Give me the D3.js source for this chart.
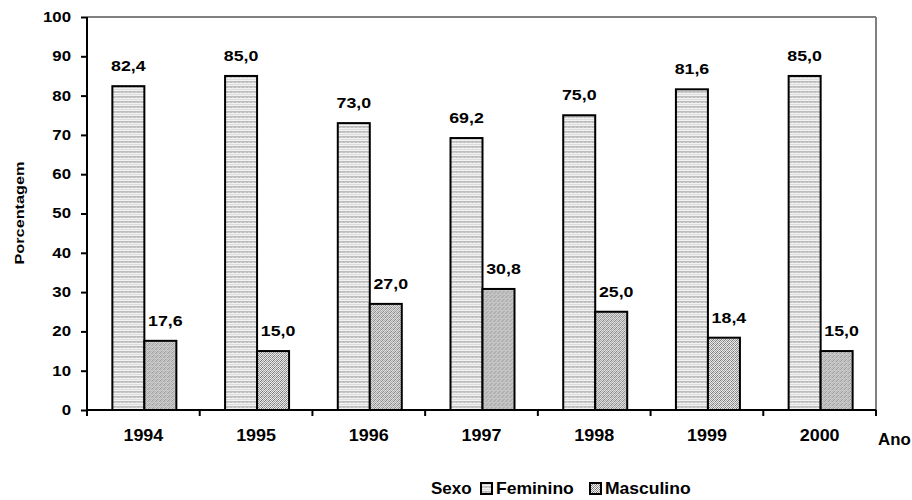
<!DOCTYPE html>
<html><head><meta charset="utf-8">
<script src="https://cdn.jsdelivr.net/npm/d3@7"></script>
<style>
body{margin:0;background:#fff;}
svg{display:block;}
svg text{font-family:"Liberation Sans",Arial,sans-serif;font-weight:700;fill:#000;}
</style></head>
<body><svg id="c" width="912" height="500"></svg>
<script>
const years = ["1994","1995","1996","1997","1998","1999","2000"];
const series = ["Feminino","Masculino"];
const feminino = [82.4,85.0,73.0,69.2,75.0,81.6,85.0];
const masculino = [17.6,15.0,27.0,30.8,25.0,18.4,15.0];
const yTicks = [0,10,20,30,40,50,60,70,80,90,100];
const fmt = v => v.toFixed(1).replace(".", ",");

function stretch(sel, f){
  sel.each(function(){
    const w = this.getComputedTextLength();
    d3.select(this).attr("textLength", w*f).attr("lengthAdjust","spacingAndGlyphs");
  });
}

const svg = d3.select("#c");
const L=87,R=876,T=17,B=410;
const defs = svg.append("defs");
const pf = defs.append("pattern").attr("id","pFem").attr("patternUnits","userSpaceOnUse").attr("width",4).attr("height",5);
pf.append("rect").attr("width",4).attr("height",5).attr("fill","#f2f2f2");
pf.append("path").attr("d","M0,2.5 L1,1.5 L2,2.5 L3,1.5 L4,2.5").attr("stroke","#7a7a7a").attr("stroke-width",1).attr("fill","none");
pf.append("rect").attr("y",4).attr("width",4).attr("height",1).attr("fill","#dcdcdc");
const pm = defs.append("pattern").attr("id","pMas").attr("patternUnits","userSpaceOnUse").attr("width",4).attr("height",4);
pm.append("rect").attr("width",4).attr("height",4).attr("fill","#f0f0f0");
[[0,0],[2,0],[1,1],[3,1],[0,2],[2,2],[1,3],[3,3]].forEach(([a,b],i)=>{
  pm.append("rect").attr("x",a).attr("y",b).attr("width",1).attr("height",1).attr("fill", i%3===0?"#707070":"#989898");
});
const fills = {Feminino:"url(#pFem)", Masculino:"url(#pMas)"};

const x = d3.scaleBand().domain(years).range([L,R]).padding(0);
const pairW = 64;
const xs = d3.scaleBand().domain(series).range([0,pairW]).padding(0);
const y = d3.scaleLinear().domain([0,100]).range([B,T]);

svg.append("line").attr("x1",L).attr("x2",R).attr("y1",T).attr("y2",T).attr("stroke","#808080").attr("stroke-width",2);
svg.append("line").attr("x1",R).attr("x2",R).attr("y1",T).attr("y2",B).attr("stroke","#808080").attr("stroke-width",2);

const data = years.map((yr,i)=>({year:yr, vals:[{s:"Feminino",v:feminino[i]},{s:"Masculino",v:masculino[i]}]}));
const g = svg.append("g").selectAll("g").data(data).join("g")
  .attr("transform",d=>`translate(${x(d.year)+(x.bandwidth()-pairW)/2+1},0)`);
g.selectAll("rect").data(d=>d.vals).join("rect")
  .attr("x",d=>xs(d.s)).attr("width",xs.bandwidth())
  .attr("y",d=>y(d.v)).attr("height",d=>B-y(d.v))
  .attr("fill",d=>fills[d.s]).attr("stroke","#000").attr("stroke-width",2);
const lbl = g.selectAll("text").data(d=>d.vals).join("text")
  .attr("x",d=>xs(d.s)+xs.bandwidth()/2+(d.s==="Masculino"?5:0))
  .attr("y",d=>y(d.v)-15)
  .attr("text-anchor","middle").attr("font-size",14)
  .text(d=>fmt(d.v));
stretch(lbl,1.27);

const ya = svg.append("g").attr("transform",`translate(${L},0)`)
  .call(d3.axisLeft(y).tickValues(yTicks).tickSize(6).tickPadding(10).tickFormat(d3.format("d")));
ya.select(".domain").attr("stroke-width",2).attr("d",`M0,${T}V${B+5}`);
ya.selectAll(".tick line").attr("stroke-width",2);
const yt = ya.selectAll(".tick text").attr("font-size",14);
stretch(yt,1.2);

const xa = svg.append("g").attr("transform",`translate(0,${B})`)
  .call(d3.axisBottom(x).tickSize(0).tickPadding(20));
xa.select(".domain").attr("stroke-width",2).attr("d",`M${L},0H${R}`);
const xt = xa.selectAll(".tick text").attr("font-size",16);
stretch(xt,1.12);
const bounds = years.map(d=>x(d)).concat([x(years[years.length-1])+x.bandwidth()]);
xa.selectAll(".bnd").data(bounds).join("line").attr("class","bnd")
  .attr("x1",d=>d).attr("x2",d=>d).attr("y1",0).attr("y2",6).attr("stroke","#000").attr("stroke-width",2);

stretch(svg.append("text").attr("x",878).attr("y",445).attr("font-size",16).text("Ano"),1.05);
stretch(svg.append("text").attr("transform","translate(24,213) rotate(-90)").attr("text-anchor","middle")
  .attr("font-size",13).text("Porcentagem"),1.25);

const lg = svg.append("g");
stretch(lg.append("text").attr("x",431).attr("y",494).attr("font-size",17).text("Sexo"),1.0);
const legendX = {Feminino:480, Masculino:589};
series.forEach(s=>{
  lg.append("rect").attr("x",legendX[s]+1).attr("y",483).attr("width",11).attr("height",11)
    .attr("fill",fills[s]).attr("stroke","#000").attr("stroke-width",2);
  stretch(lg.append("text").attr("x",legendX[s]+16).attr("y",494).attr("font-size",17).text(s),1.03);
});
</script></body></html>
